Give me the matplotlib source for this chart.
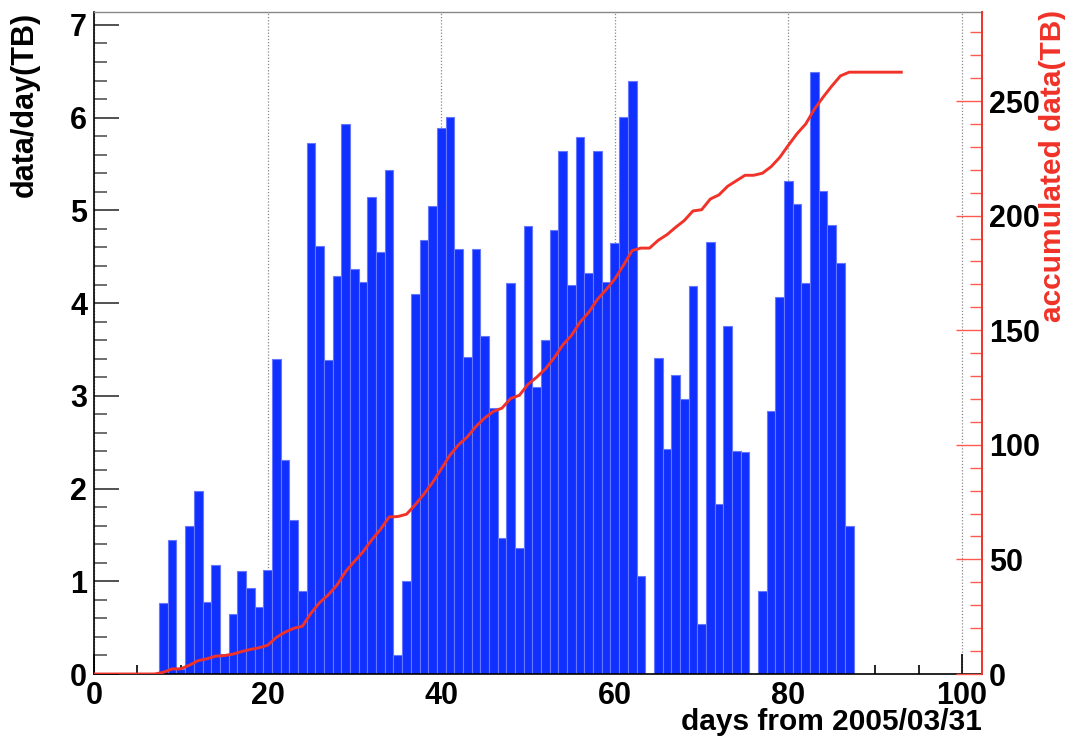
import numpy as np
import matplotlib
matplotlib.use("Agg")
import matplotlib.pyplot as plt
from matplotlib.ticker import MultipleLocator

# ---- data ----
days = list(range(0, 94))  # days from 2005/03/31
daily_tb = [
    0, 0, 0, 0, 0, 0, 0, 0,                                  # 0-7
    0.77, 1.45, 0.05, 1.60, 1.97, 0.78, 1.18, 0.22, 0.65, 1.11,  # 8-17
    0.93, 0.72, 1.12, 3.40, 2.31, 1.66, 0.90, 5.73, 4.62, 3.39,  # 18-27
    4.29, 5.93, 4.37, 4.23, 5.14, 4.55, 5.44, 0.20, 1.00, 4.10,  # 28-37
    4.68, 5.05, 5.89, 6.01, 4.58, 3.42, 4.58, 3.65, 2.87, 1.47,  # 38-47
    4.22, 1.36, 4.83, 3.09, 3.60, 4.79, 5.64, 4.19, 5.79, 4.32,  # 48-57
    5.64, 4.23, 4.65, 6.01, 6.40, 1.06, 0.00, 3.41, 2.43, 3.22,  # 58-67
    2.97, 4.18, 0.54, 4.66, 1.83, 3.75, 2.40, 2.39, 0.00, 0.89,  # 68-77
    2.84, 4.07, 5.32, 5.07, 4.22, 6.49, 5.21, 4.84, 4.43, 1.60,  # 78-87
    0, 0, 0, 0, 0, 0,                                        # 88-93
]
x_ticks = [0, 20, 40, 60, 80, 100]
left_ticks = [0, 1, 2, 3, 4, 5, 6, 7]
right_ticks = [0, 50, 100, 150, 200, 250]

x_label = "days from 2005/03/31"
left_label = "data/day(TB)"
right_label = "accumulated data(TB)"

# ---- style ----
BLUE = "#1030FF"
BLUE_EDGE = "#6678FF"
RED = "#F03228"
FONT = "Liberation Sans"
TICK_FS = 22

plt.rcParams["font.family"] = [FONT, "DejaVu Sans"]
plt.rcParams["font.weight"] = "bold"

fig = plt.figure(figsize=(10.65, 7.44), dpi=100)
W, H = 1065, 744
ax_l, ax_r, ax_t, ax_b = 94, 982, 12, 674
ax = fig.add_axes([ax_l / W, 1 - ax_b / H, (ax_r - ax_l) / W, (ax_b - ax_t) / H])

d = np.array(days)
v = np.array(daily_tb, dtype=float)
mask = v > 0
ax.bar(d[mask], v[mask], width=1.0, color=BLUE, edgecolor=BLUE_EDGE,
       linewidth=0.8, zorder=2)

ax.set_xlim(0, 102.3)
ax.set_ylim(0, 1.1 * v.max())
ax.set_axisbelow(True)

ax.set_xticks(x_ticks)
ax.xaxis.set_minor_locator(MultipleLocator(5))
ax.set_yticks(left_ticks)
ax.yaxis.set_minor_locator(MultipleLocator(0.2))
ax.tick_params(axis="x", which="major", direction="in", length=14.5, width=1.2,
               color="black", labelsize=TICK_FS, pad=5, top=False)
ax.tick_params(axis="x", which="minor", direction="in", length=6.5, width=1.2,
               color="black", top=False)
ax.tick_params(axis="y", which="major", direction="in", length=18, width=1.2,
               color="#333333", labelsize=TICK_FS, pad=5, right=False)
ax.tick_params(axis="y", which="minor", direction="in", length=9.4, width=1.2,
               color="#555555", right=False)
for lab in ax.get_xticklabels() + ax.get_yticklabels():
    lab.set_fontweight("bold")

ax.xaxis.grid(True, which="major", linestyle=(0, (1, 1.5)), color="#888888",
              linewidth=0.9)
ax.yaxis.grid(False)

ax.spines["left"].set_color("black")
ax.spines["left"].set_linewidth(1.2)
ax.spines["bottom"].set_color("black")
ax.spines["bottom"].set_linewidth(1.2)
ax.spines["top"].set_color("#888888")
ax.spines["top"].set_linewidth(1.0)
ax.spines["right"].set_visible(False)

# accumulated data on the right axis
cum = np.cumsum(v)
ax2 = ax.twinx()
ax2.plot(d, cum, color=RED, linewidth=2.1, zorder=3)
ax2.set_ylim(0, 1.1 * cum.max())
ax2.set_yticks(right_ticks)
ax2.yaxis.set_minor_locator(MultipleLocator(10))
ax2.tick_params(axis="y", which="major", direction="in", length=18.5, width=1.0,
                color="#FF5A50", labelsize=TICK_FS, pad=5, labelcolor="black")
ax2.tick_params(axis="y", which="minor", direction="in", length=9, width=1.0,
                color="#FF5A50")
for lab in ax2.get_yticklabels():
    lab.set_fontweight("bold")
for s in ["left", "top", "bottom"]:
    ax2.spines[s].set_visible(False)
ax2.spines["right"].set_color(RED)
ax2.spines["right"].set_linewidth(1.4)

# titles
fig.text(25 / W, 1 - 12 / H, left_label, rotation=90, ha="center", va="top",
         fontsize=22, fontweight="bold", color="black")
fig.text(1053 / W, 1 - 10 / H, right_label, rotation=90, ha="center", va="top",
         fontsize=21.5, fontweight="bold", color=RED)
fig.text(982 / W, 1 - 722 / H, x_label, ha="right", va="center",
         fontsize=21.5, fontweight="bold", color="black")

fig.savefig("out.png", dpi=100)
